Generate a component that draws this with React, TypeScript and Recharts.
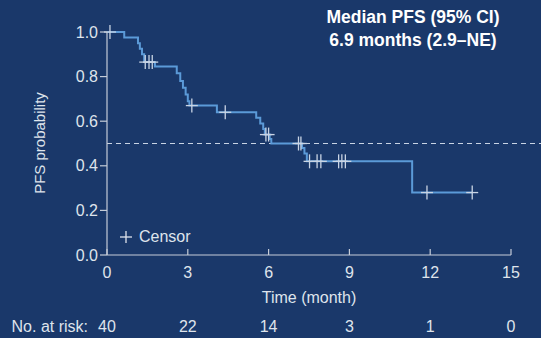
import React from 'react';
import {
  ComposedChart,
  Line,
  Scatter,
  XAxis,
  YAxis,
  ReferenceLine,
} from 'recharts';

// KM step points (month, survival)
const stepTimes = [0, 0.64, 1.15, 1.22, 1.3, 1.38, 1.78, 2.59, 2.72, 2.82, 2.92, 3.0, 3.06, 4.08, 5.54, 5.69, 5.8, 5.86, 6.04, 6.1, 7.24, 7.33, 7.42, 11.33, 13.56];
const stepSurv = [1.0, 0.975, 0.95, 0.925, 0.9, 0.865, 0.845, 0.815, 0.78, 0.75, 0.72, 0.69, 0.67, 0.64, 0.615, 0.59, 0.565, 0.54, 0.52, 0.5, 0.48, 0.455, 0.42, 0.28, 0.28];

// censored observations
const censorTimes = [0.11, 1.42, 1.56, 1.68, 3.15, 4.39, 5.9, 6.0, 7.11, 7.2, 7.52, 7.8, 7.94, 8.6, 8.72, 8.85, 11.88, 13.56];
const censorSurv = [1.0, 0.865, 0.865, 0.865, 0.67, 0.64, 0.54, 0.54, 0.5, 0.5, 0.42, 0.42, 0.42, 0.42, 0.42, 0.42, 0.28, 0.28];

const xTicks = [0, 3, 6, 9, 12, 15];
const yTicks = [0, 0.2, 0.4, 0.6, 0.8, 1.0];
const atRisk = [40, 22, 14, 3, 1, 0];

const BG = '#1a386a';
const CURVE = '#5b9ad8';
const MARK = '#c9d4e4';
const AXIS = '#c5ccd8';
const TEXT = '#dfe4ec';
const FONT = '"Liberation Sans", Arial, sans-serif';

const kmData = stepTimes.map((t, i) => ({ t, s: stepSurv[i] }));
const censorData = censorTimes.map((t, i) => ({ t, s: censorSurv[i] }));

const CensorMark = (props: any) => {
  const { cx, cy } = props;
  if (cx == null || cy == null) return null;
  return (
    <g stroke={MARK} strokeWidth={1.3}>
      <line x1={cx} y1={cy - 7} x2={cx} y2={cy + 7} />
      <line x1={cx - 6} y1={cy} x2={cx + 6} y2={cy} />
    </g>
  );
};

const XTick = (props: any) => {
  const { x, y, payload, index } = props;
  return (
    <g>
      <line x1={x} y1={y - 6} x2={x} y2={y} stroke={AXIS} strokeWidth={1.2} />
      <text x={x} y={y + 23} textAnchor="middle" fill={TEXT} fontSize={16} fontFamily={FONT}>
        {payload.value}
      </text>
      <text x={x} y={y + 77} textAnchor="middle" fill={TEXT} fontSize={16} fontFamily={FONT}>
        {atRisk[index]}
      </text>
      {index === 0 && (
        <text x={x - 19} y={y + 77} textAnchor="end" fill={TEXT} fontSize={16} fontFamily={FONT}>
          No. at risk:
        </text>
      )}
    </g>
  );
};

export default function App() {
  return (
    <div style={{ position: 'absolute', left: 0, top: 0, width: 541, height: 338, background: BG, fontFamily: FONT }}>
      <ComposedChart
        width={541}
        height={338}
        margin={{ top: 32, right: 30, left: 47, bottom: 0 }}
      >
        <XAxis
          dataKey="t"
          type="number"
          domain={[0, 15]}
          ticks={xTicks}
          height={83}
          stroke={AXIS}
          strokeWidth={1.2}
          tickLine={false}
          tickSize={0}
          tickMargin={0}
          tick={<XTick />}
          interval={0}
          label={{
            content: (p: any) => {
              const vb = p.viewBox;
              return (
                <text x={vb.x + vb.width / 2} y={303} textAnchor="middle" fill={TEXT} fontSize={16} fontFamily={FONT}>
                  Time (month)
                </text>
              );
            },
          }}
        />
        <YAxis
          dataKey="s"
          type="number"
          domain={[0, 1]}
          ticks={yTicks}
          width={60}
          stroke={AXIS}
          strokeWidth={1.2}
          tickSize={7}
          tickFormatter={(v: number) => v.toFixed(1)}
          tick={{ fill: TEXT, fontSize: 16, fontFamily: FONT }}
          interval={0}
          label={{
            content: () => (
              <text
                x={45}
                y={143}
                transform="rotate(-90 45 143)"
                textAnchor="middle"
                fill={TEXT}
                fontSize={15}
                fontFamily={FONT}
              >
                PFS probability
              </text>
            ),
          }}
        />
        <ReferenceLine
          segment={[{ x: 0, y: 0.5 }, { x: 16.2, y: 0.5 }]}
          ifOverflow="visible"
          stroke={MARK}
          strokeWidth={1.2}
          strokeDasharray="5 4"
        />
        <Line
          data={kmData}
          dataKey="s"
          type="stepAfter"
          stroke={CURVE}
          strokeWidth={2}
          dot={false}
          isAnimationActive={false}
        />
        <Scatter
          data={censorData}
          dataKey="s"
          shape={<CensorMark />}
          isAnimationActive={false}
        />
      </ComposedChart>
      <div
        style={{
          position: 'absolute',
          left: 300,
          top: 6,
          width: 226,
          textAlign: 'center',
          color: '#ffffff',
          fontWeight: 'bold',
          fontSize: 17.5,
          lineHeight: '23px',
        }}
      >
        <div>Median PFS (95% CI)</div>
        <div>6.9 months (2.9–NE)</div>
      </div>
      <div style={{ position: 'absolute', left: 118, top: 228, display: 'flex', alignItems: 'center', color: TEXT, fontSize: 16 }}>
        <svg width={16} height={16}>
          <line x1={8} y1={2} x2={8} y2={14} stroke={TEXT} strokeWidth={1.3} />
          <line x1={2} y1={8} x2={14} y2={8} stroke={TEXT} strokeWidth={1.3} />
        </svg>
        <span style={{ marginLeft: 5 }}>Censor</span>
      </div>
    </div>
  );
}
